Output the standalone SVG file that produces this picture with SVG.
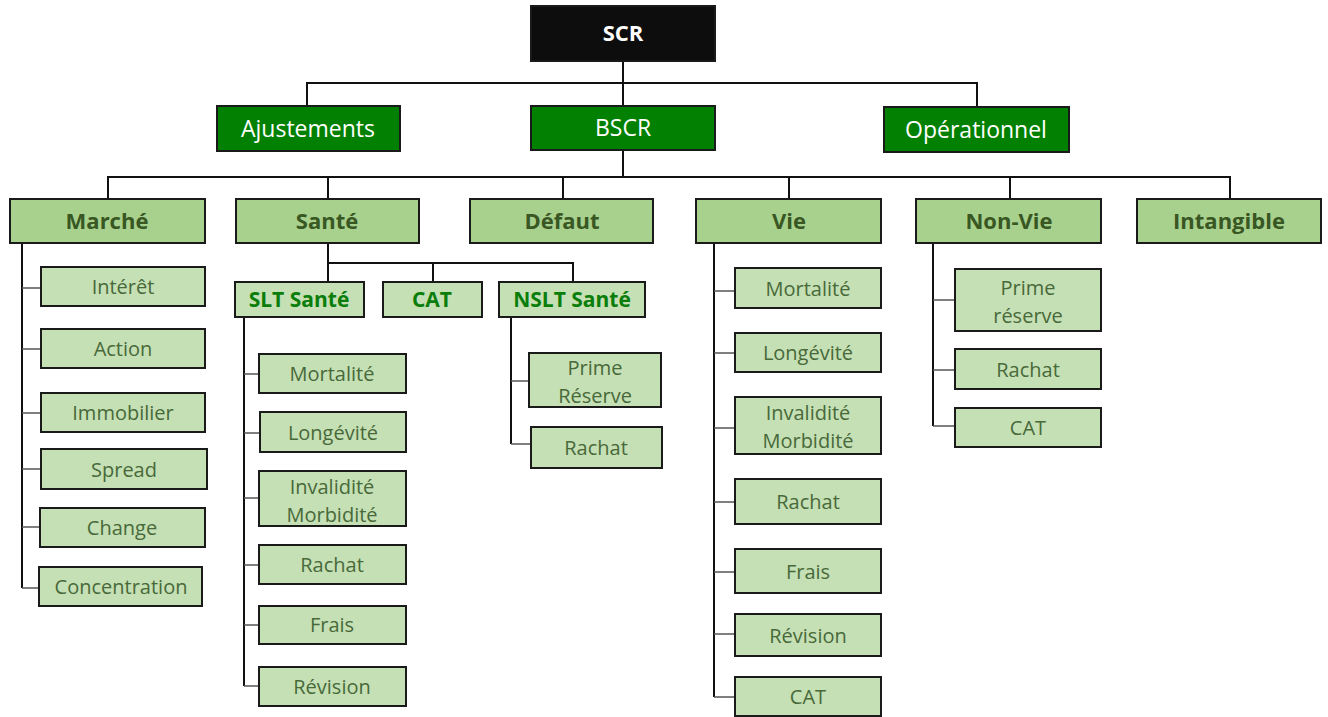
<svg xmlns="http://www.w3.org/2000/svg" width="1328" height="717" viewBox="0 0 1328 717">
<style>
rect{stroke:#1a1a1a;stroke-width:2}
.root{fill:#0d0d0d}
.l1{fill:#028002}
.l2{fill:#a9d18e}
.l3{fill:#c5e0b4}
text{font-family:"Open Sans","Noto Sans","DejaVu Sans",sans-serif;text-anchor:middle}
.troot{fill:#ffffff;font-size:22px;font-weight:bold}
.tl1{fill:#ffffff;font-size:23px}
.tl2{fill:#385723;font-size:22px;font-weight:bold}
.tsub{fill:#0a7d0a;font-size:21px;font-weight:bold}
.tleaf{fill:#48693a;font-size:20px}
.main{stroke:#111;stroke-width:2;fill:none}
.hook{stroke:#555;stroke-width:1.6;fill:none}
</style>
<g id="connectors">
<path class="main" d="M623 61V106M307 106V83H977V107"/>
<path class="main" d="M623 150V177M108 199V177H1230V199M328 177V199M563 177V199M789 177V199M1010 177V199"/>
<path class="main" d="M328 243V263H573V282M328 263V282M433 263V282"/>
<path class="main" d="M22 243V588"/>
<path class="hook" d="M22 288H41M22 349H41M22 413H41M22 469H41M22 527H40M22 588H39"/>
<path class="main" d="M244 317V686"/>
<path class="hook" d="M244 374H259M244 433H260M244 498H259M244 565H259M244 625H259M244 686H259"/>
<path class="main" d="M511 317V444"/>
<path class="hook" d="M511 381H529M511 444H531"/>
<path class="main" d="M714 243V697"/>
<path class="hook" d="M714 291H735M714 353H735M714 428H735M714 502H735M714 572H735M714 634H735M714 697H735"/>
<path class="main" d="M933 243V426"/>
<path class="hook" d="M933 300H955M933 370H955M933 426H955"/>
</g>
<g id="scr"><rect class="root" x="531" y="6" width="184" height="55"/><text class="troot" x="623" y="41">SCR</text></g>
<g id="ajustements"><rect class="l1" x="217" y="106" width="183" height="45"/><text class="tl1" x="308" y="137">Ajustements</text></g>
<g id="bscr"><rect class="l1" x="531" y="106" width="184" height="44"/><text class="tl1" x="623" y="136">BSCR</text></g>
<g id="operationnel"><rect class="l1" x="884" y="107" width="185" height="45"/><text class="tl1" x="976" y="138">Opérationnel</text></g>

<g id="marche"><rect class="l2" x="10" y="199" width="195" height="44"/><text class="tl2" x="107" y="229">Marché</text></g>
<g id="sante"><rect class="l2" x="236" y="199" width="183" height="44"/><text class="tl2" x="327" y="229">Santé</text></g>
<g id="defaut"><rect class="l2" x="470" y="199" width="183" height="44"/><text class="tl2" x="562" y="229">Défaut</text></g>
<g id="vie"><rect class="l2" x="696" y="199" width="185" height="44"/><text class="tl2" x="789" y="229">Vie</text></g>
<g id="nonvie"><rect class="l2" x="916" y="199" width="185" height="44"/><text class="tl2" x="1009" y="229">Non-Vie</text></g>
<g id="intangible"><rect class="l2" x="1137" y="199" width="184" height="44"/><text class="tl2" x="1229" y="229">Intangible</text></g>

<g id="slt-sante"><rect class="l3" x="235" y="282" width="129" height="35"/><text class="tsub" x="299" y="307">SLT Santé</text></g>
<g id="cat-sante"><rect class="l3" x="383" y="282" width="99" height="35"/><text class="tsub" x="432" y="307">CAT</text></g>
<g id="nslt-sante"><rect class="l3" x="499" y="282" width="146" height="35"/><text class="tsub" x="572" y="307">NSLT Santé</text></g>

<g id="m-interet"><rect class="l3" x="41" y="267" width="164" height="39"/><text class="tleaf" x="123" y="294">Intérêt</text></g>
<g id="m-action"><rect class="l3" x="41" y="329" width="164" height="39"/><text class="tleaf" x="123" y="356">Action</text></g>
<g id="m-immobilier"><rect class="l3" x="41" y="393" width="164" height="39"/><text class="tleaf" x="123" y="420">Immobilier</text></g>
<g id="m-spread"><rect class="l3" x="41" y="449" width="166" height="40"/><text class="tleaf" x="124" y="477">Spread</text></g>
<g id="m-change"><rect class="l3" x="40" y="508" width="165" height="39"/><text class="tleaf" x="122" y="535">Change</text></g>
<g id="m-concentration"><rect class="l3" x="39" y="567" width="163" height="39"/><text class="tleaf" x="121" y="594">Concentration</text></g>

<g id="s-mortalite"><rect class="l3" x="259" y="354" width="147" height="39"/><text class="tleaf" x="332" y="381">Mortalité</text></g>
<g id="s-longevite"><rect class="l3" x="260" y="412" width="146" height="40"/><text class="tleaf" x="333" y="440">Longévité</text></g>
<g id="s-invalidite"><rect class="l3" x="259" y="471" width="147" height="55"/><text class="tleaf" x="332" y="494">Invalidité</text><text class="tleaf" x="332" y="522">Morbidité</text></g>
<g id="s-rachat"><rect class="l3" x="259" y="545" width="147" height="39"/><text class="tleaf" x="332" y="572">Rachat</text></g>
<g id="s-frais"><rect class="l3" x="259" y="606" width="147" height="38"/><text class="tleaf" x="332" y="632">Frais</text></g>
<g id="s-revision"><rect class="l3" x="259" y="667" width="147" height="39"/><text class="tleaf" x="332" y="694">Révision</text></g>

<g id="n-prime"><rect class="l3" x="529" y="353" width="132" height="54"/><text class="tleaf" x="595" y="375">Prime</text><text class="tleaf" x="595" y="403">Réserve</text></g>
<g id="n-rachat"><rect class="l3" x="531" y="427" width="131" height="41"/><text class="tleaf" x="596" y="455">Rachat</text></g>

<g id="v-mortalite"><rect class="l3" x="735" y="268" width="146" height="40"/><text class="tleaf" x="808" y="296">Mortalité</text></g>
<g id="v-longevite"><rect class="l3" x="735" y="333" width="146" height="39"/><text class="tleaf" x="808" y="360">Longévité</text></g>
<g id="v-invalidite"><rect class="l3" x="735" y="397" width="146" height="57"/><text class="tleaf" x="808" y="420">Invalidité</text><text class="tleaf" x="808" y="448">Morbidité</text></g>
<g id="v-rachat"><rect class="l3" x="735" y="479" width="146" height="45"/><text class="tleaf" x="808" y="509">Rachat</text></g>
<g id="v-frais"><rect class="l3" x="735" y="549" width="146" height="44"/><text class="tleaf" x="808" y="579">Frais</text></g>
<g id="v-revision"><rect class="l3" x="735" y="614" width="146" height="42"/><text class="tleaf" x="808" y="643">Révision</text></g>
<g id="v-cat"><rect class="l3" x="735" y="677" width="146" height="39"/><text class="tleaf" x="808" y="704">CAT</text></g>

<g id="nv-prime"><rect class="l3" x="955" y="269" width="146" height="62"/><text class="tleaf" x="1028" y="295">Prime</text><text class="tleaf" x="1028" y="323">réserve</text></g>
<g id="nv-rachat"><rect class="l3" x="955" y="349" width="146" height="40"/><text class="tleaf" x="1028" y="377">Rachat</text></g>
<g id="nv-cat"><rect class="l3" x="955" y="408" width="146" height="39"/><text class="tleaf" x="1028" y="435">CAT</text></g>
</svg>
